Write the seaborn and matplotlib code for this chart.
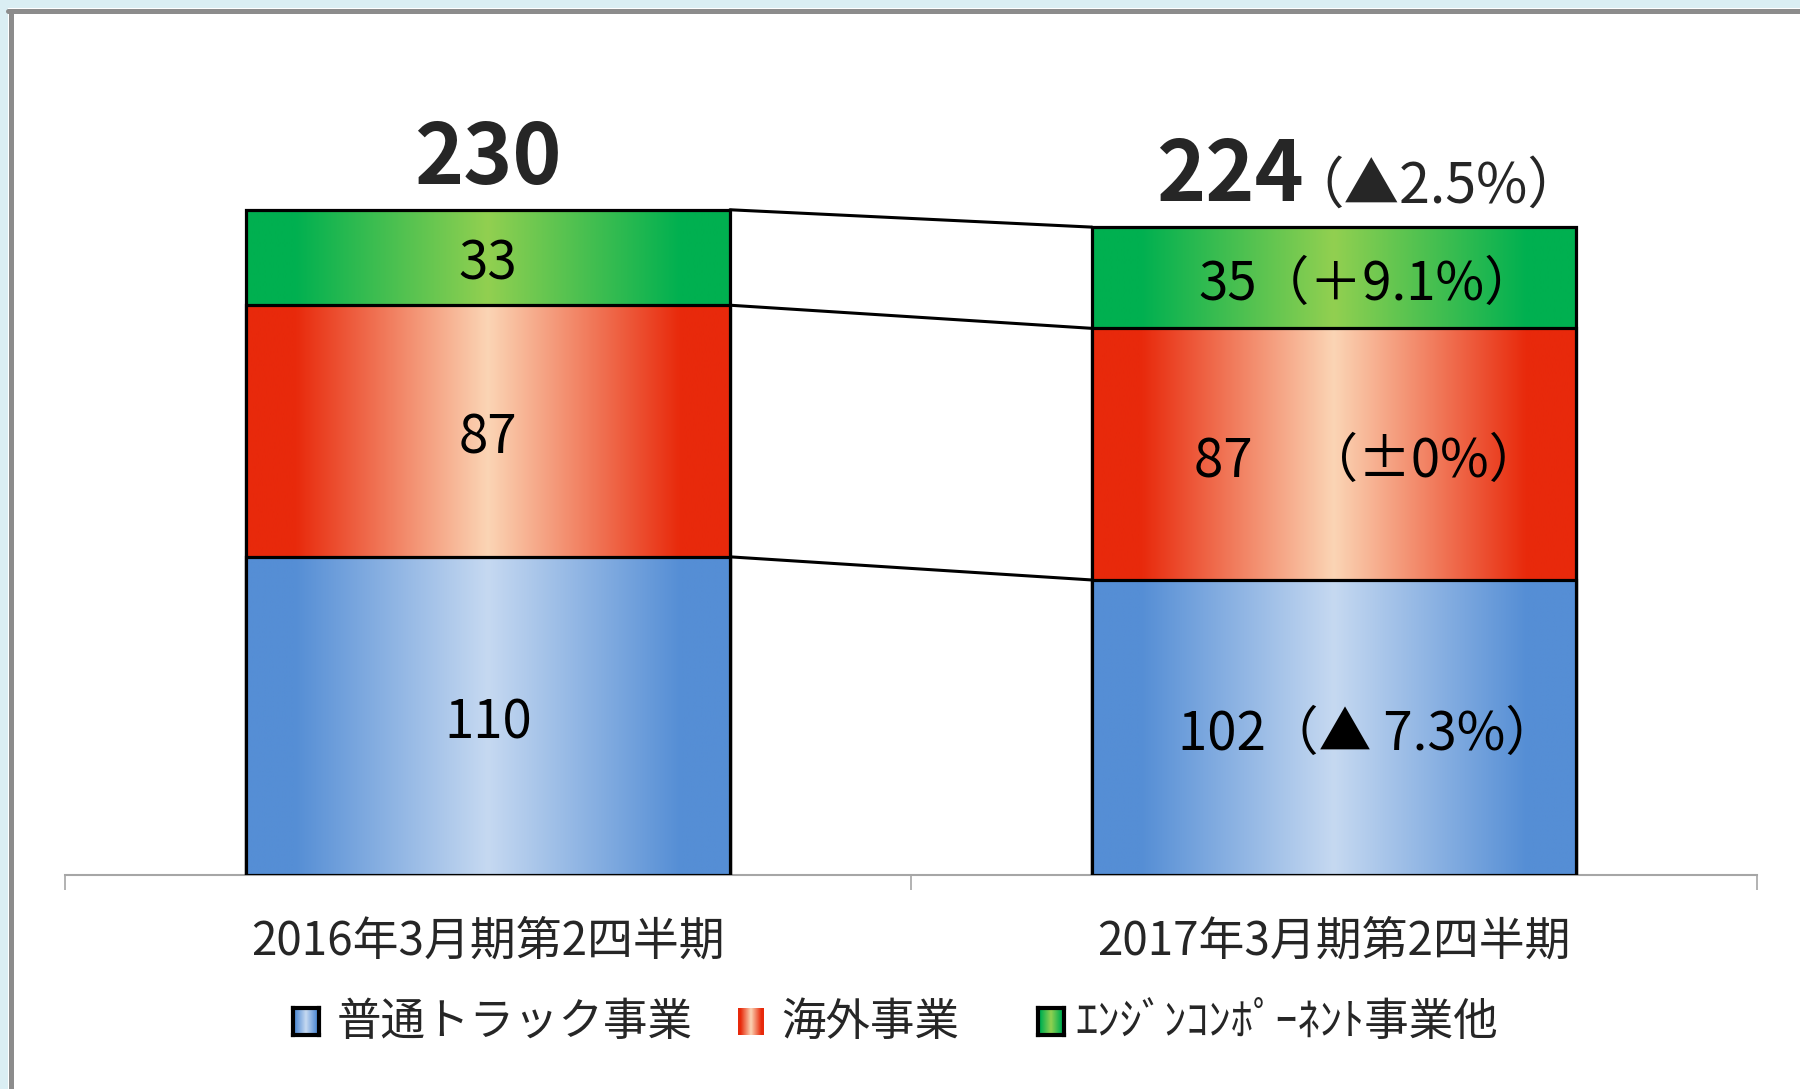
"""Stacked sales bars by business segment, two half-year periods"""

import matplotlib.pyplot as plt
import numpy as np
import pandas as pd
import seaborn as sns
from matplotlib.colors import LinearSegmentedColormap
from matplotlib.lines import Line2D
from matplotlib.patches import Rectangle

periods = ["2016年3月期第2四半期", "2017年3月期第2四半期"]
segment_names = ["普通トラック事業", "海外事業", "ｴﾝｼﾞﾝｺﾝﾎﾟｰﾈﾝﾄ事業他"]
truck = [110, 102]
overseas = [87, 87]
engine = [33, 35]
totals = [230, 224]
total_changes = ["", "（▲2.5%）"]
truck_labels = ["110", "102（▲ 7.3%）"]
overseas_labels = ["87", "87　（±0%）"]
engine_labels = ["33", "35（＋9.1%）"]

# (edge colour, centre colour) of the horizontal gradients
seg_colors = [("#558ed5", "#c6d9f1"), ("#e8290b", "#fbd5b5"), ("#00b050", "#92d050")]

sns.set_style("white")
plt.rcParams["font.family"] = ["Noto Sans CJK JP", "DejaVu Sans"]

W, H = 1800, 1089
fig = plt.figure(figsize=(W / 100, H / 100), dpi=100)
fig.set_facecolor("#daeef3")
fig.add_artist(Rectangle((8 / W, 0), 1, (H - 8) / H, transform=fig.transFigure,
                         facecolor="white", edgecolor="none", zorder=-2))
fig.add_artist(Line2D([10.5 / W, 10.5 / W], [0, (H - 10.5) / H], transform=fig.transFigure,
                      color="#8c8c8c", lw=3.6, zorder=-1))
fig.add_artist(Line2D([8 / W, 1], [(H - 10.5) / H] * 2, transform=fig.transFigure,
                      color="#8c8c8c", lw=3.6, zorder=-1))

ax = fig.add_axes([65 / W, 214 / H, 1692 / W, 752 / H])
ax.set_facecolor("none")


def gradient_cmap(edge, center):
    return LinearSegmentedColormap.from_list(
        "grad", [(0, edge), (0.1, edge), (0.5, center), (0.9, edge), (1, edge)]
    )


grad = np.linspace(0, 1, 256).reshape(1, -1)

# cumulative tops, drawn tallest first so shorter layers sit on top
cum_truck = np.array(truck)
cum_overseas = cum_truck + np.array(overseas)
cum_engine = cum_overseas + np.array(engine)
layers = [(cum_engine, seg_colors[2]), (cum_overseas, seg_colors[1]), (cum_truck, seg_colors[0])]

bar_width = 0.572
for i, (tops, (edge, center)) in enumerate(layers):
    df = pd.DataFrame({"period": periods, "value": tops})
    n_before = len(ax.patches)
    sns.barplot(data=df, x="period", y="value", color=edge, width=bar_width,
                errorbar=None, ax=ax)
    for patch in ax.patches[n_before:]:
        x, w, h = patch.get_x(), patch.get_width(), patch.get_height()
        ax.imshow(grad, cmap=gradient_cmap(edge, center), aspect="auto",
                  extent=(x, x + w, 0, h), zorder=2 + 2 * i, interpolation="bilinear")
        patch.set_facecolor("none")
        patch.set_edgecolor("black")
        patch.set_linewidth(2.3)
        patch.set_zorder(3 + 2 * i)

# connector lines between the two bars
half = bar_width / 2
for tops, _ in layers:
    ax.plot([0 + half, 1 - half], [tops[0], tops[1]], color="black", lw=2.2, zorder=1)

# segment labels
for j in range(2):
    bottoms = [0, truck[j], truck[j] + overseas[j]]
    heights = [truck[j], overseas[j], engine[j]]
    texts = [truck_labels[j], overseas_labels[j], engine_labels[j]]
    for b, h, t in zip(bottoms, heights, texts):
        ax.annotate(t, (j, b + h / 2), xytext=(34 if j else 0, -7),
                    textcoords="offset pixels", ha="center", va="center",
                    fontsize=38, color="black", zorder=10)

# totals above bars
ax.annotate(str(totals[0]), (0, totals[0]), xytext=(0, 26), textcoords="offset pixels",
            ha="center", va="baseline", fontsize=60, fontweight="bold", zorder=10)
ax.annotate(str(totals[1]), (1, totals[1]), xytext=(-30, 26), textcoords="offset pixels",
            ha="right", va="baseline", fontsize=60, fontweight="bold", zorder=10)
ax.annotate(total_changes[1], (1, totals[1]), xytext=(-46, 24), textcoords="offset pixels",
            ha="left", va="baseline", fontsize=40, zorder=10)

ax.set_xlim(-0.5, 1.5)
ax.set_ylim(0, 260)
ax.set_xlabel("")
ax.set_ylabel("")
ax.set_yticks([])
ax.set_xticks([0, 1], labels=periods)
ax.set_xticks([-0.5, 0.5, 1.5], minor=True)
ax.tick_params(axis="x", which="major", length=0, pad=30, labelsize=33)
ax.tick_params(axis="x", which="minor", length=11, width=1.2, color="#a6a6a6",
               direction="out", bottom=True)
for side in ["top", "left", "right"]:
    ax.spines[side].set_visible(False)
ax.spines["bottom"].set_color("#a6a6a6")
ax.spines["bottom"].set_linewidth(1.5)

# legend: small gradient swatches with labels
legend_items = [(293, 337, True), (738, 781, False), (1038, 1075, True)]
for (mx, tx, framed), name, (edge, center) in zip(legend_items, segment_names, seg_colors):
    lax = fig.add_axes([mx / W, (H - 1035) / H, 26 / W, 27 / H])
    lax.imshow(grad, cmap=gradient_cmap(edge, center), aspect="auto",
               extent=(0, 1, 0, 1), interpolation="bilinear")
    lax.set_xticks([])
    lax.set_yticks([])
    for sp in lax.spines.values():
        sp.set_visible(framed)
        sp.set_color("black")
        sp.set_linewidth(3)
    fig.text(tx / W, (H - 1022) / H, name, ha="left", va="center", fontsize=32)

plt.savefig("out.png", dpi=100)
plt.close()
